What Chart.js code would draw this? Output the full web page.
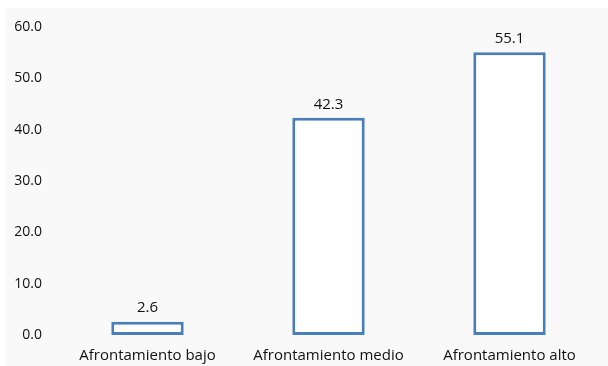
<!DOCTYPE html>
<html>
<head>
<meta charset="utf-8">
<script src="https://cdn.jsdelivr.net/npm/chart.js@4"></script>
<style>
  html, body { margin: 0; padding: 0; background: #ffffff; }
  #wrap { position: absolute; left: 5px; top: 8px; width: 603px; height: 358px; background: #f9f9f9; }
  canvas { display: block; }
</style>
</head>
<body>
<div id="wrap"><canvas id="chart" width="603" height="358"></canvas></div>
<script>
const categories = ['Afrontamiento bajo', 'Afrontamiento medio', 'Afrontamiento alto'];
const values = [2.6, 42.3, 55.1];
const yTicks = [0, 10, 20, 30, 40, 50, 60];

// draws the value above each bar
const valueLabels = {
    id: 'valueLabels',
    afterDatasetsDraw(chart) {
        const ctx = chart.ctx;
        const meta = chart.getDatasetMeta(0);
        ctx.save();
        ctx.font = '15px "Open Sans"';
        ctx.fillStyle = '#111';
        ctx.textAlign = 'center';
        ctx.textBaseline = 'bottom';
        meta.data.forEach((bar, i) => {
            ctx.fillText(values[i].toFixed(1), bar.x, bar.y - 6);
        });
        ctx.restore();
    }
};

const ctx = document.getElementById('chart').getContext('2d');
const chart = new Chart(ctx, {
    type: 'bar',
    data: {
        labels: categories,
        datasets: [{
            data: values,
            backgroundColor: '#ffffff',
            borderColor: '#4a7ebb',
            borderWidth: 3,
            borderSkipped: false,
            barPercentage: 0.4,
            categoryPercentage: 1.0
        }]
    },
    options: {
        responsive: false,
        animation: false,
        layout: { padding: { top: 19, right: 8, left: 0, bottom: 0 } },
        plugins: {
            legend: { display: false },
            tooltip: { enabled: false }
        },
        scales: {
            x: {
                afterFit(axis) { axis.height = 31; axis.paddingLeft = 0; axis.paddingRight = 0; },
                grid: { display: false, drawTicks: false },
                border: { display: false },
                ticks: { color: '#111', font: { family: 'Open Sans', size: 15 }, padding: 12 }
            },
            y: {
                min: 0,
                max: 60,
                afterBuildTicks(axis) { axis.ticks = yTicks.map(v => ({ value: v })); },
                afterFit(axis) { axis.width = 52; axis.paddingTop = 0; axis.paddingBottom = 0; },
                grid: { display: false, drawTicks: false },
                border: { display: false },
                ticks: {
                    color: '#111',
                    font: { family: 'Open Sans', size: 14 },
                    padding: 15,
                    callback: v => v.toFixed(1)
                }
            }
        }
    },
    plugins: [valueLabels]
});
</script>
</body>
</html>
